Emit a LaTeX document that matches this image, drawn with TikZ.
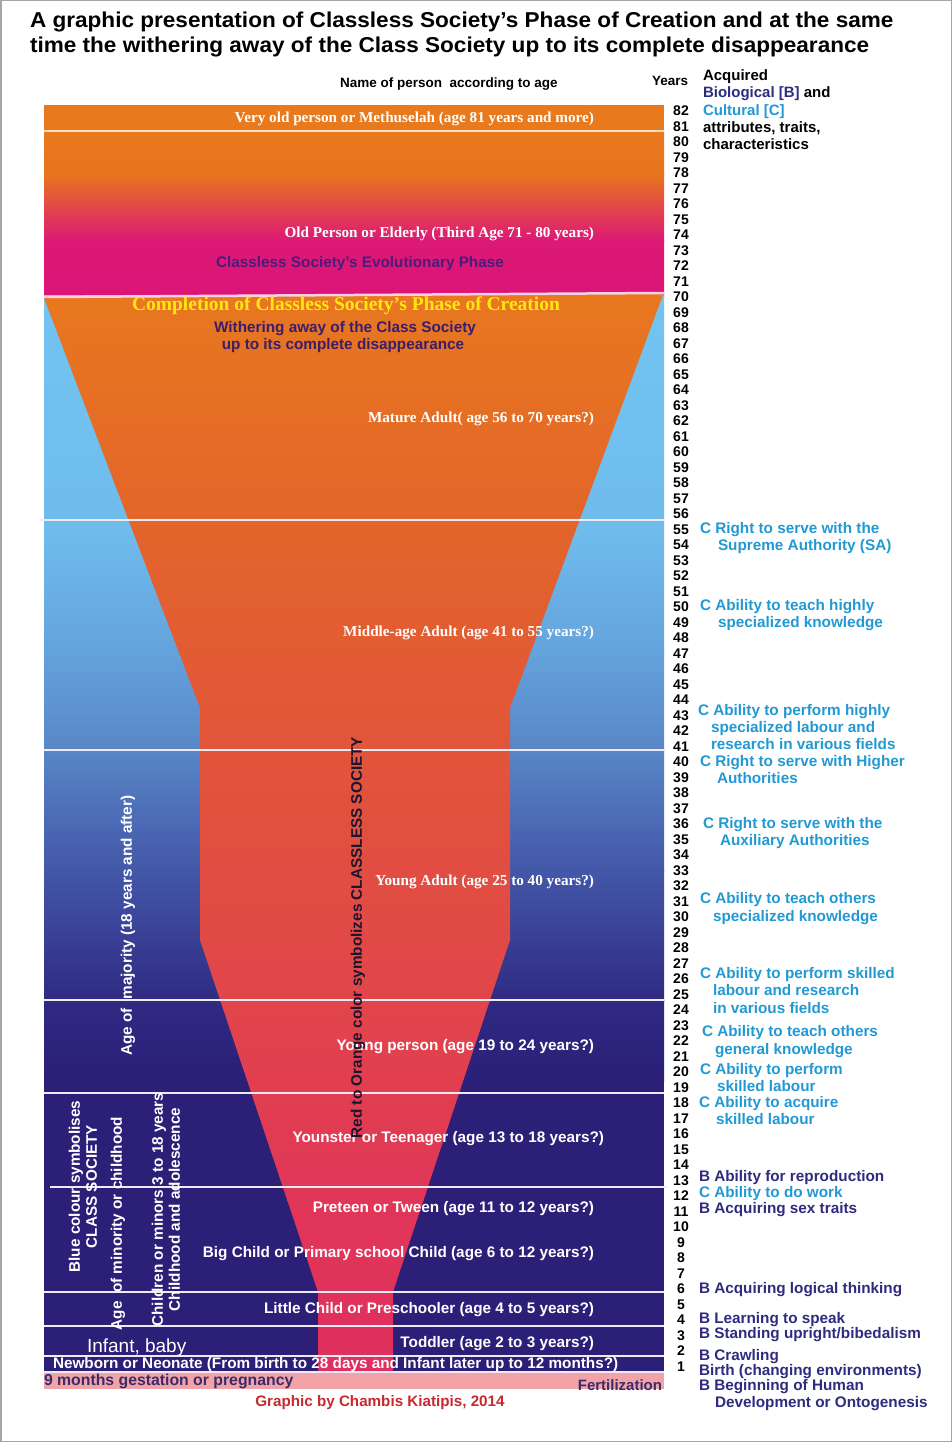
\documentclass[tikz,border=0pt]{standalone}
\usepackage{fontspec}
\setmainfont{Liberation Serif}
\setsansfont{Liberation Sans}
\newfontfamily\titlefont[FakeStretch=1.05]{Liberation Sans}
\definecolor{cult}{HTML}{2299D3}
\definecolor{biol}{HTML}{2F2B7F}
\definecolor{evol}{HTML}{4B1C7C}
\definecolor{withr}{HTML}{3C1D6A}
\definecolor{gest}{HTML}{3B2B6B}
\definecolor{credit}{HTML}{C8282E}
\definecolor{compl}{HTML}{FFE812}
\definecolor{meth}{HTML}{E8791C}
\definecolor{sepcol}{HTML}{EEEAF6}
\definecolor{strip}{HTML}{F2A3A8}
\definecolor{oldA}{HTML}{E7741F}
\definecolor{oldB}{HTML}{DC1975}
\definecolor{oldC}{HTML}{DC1478}
\definecolor{blA}{HTML}{73C4F0}
\definecolor{blB}{HTML}{6FBCEC}
\definecolor{blC}{HTML}{64A3DC}
\definecolor{blD}{HTML}{5886C7}
\definecolor{blE}{HTML}{4357A8}
\definecolor{blF}{HTML}{2F2A82}
\definecolor{blG}{HTML}{2B1F78}
\definecolor{fuA}{HTML}{E8781F}
\definecolor{fuB}{HTML}{E3652A}
\definecolor{fuC}{HTML}{E1553A}
\definecolor{fuD}{HTML}{E1454A}
\definecolor{fuE}{HTML}{E03658}
\definecolor{fuF}{HTML}{E02F5E}
\definecolor{sepPeach}{HTML}{F8E0C8}
\definecolor{sepPink}{HTML}{F6D0E6}
\definecolor{redtxt}{HTML}{1E142D}
\begin{document}
\begin{tikzpicture}[x=1pt,y=-1pt,
  every node/.style={inner sep=0pt,outer sep=0pt,yshift=-3.5pt},
  ttl/.style={font=\titlefont\bfseries\fontsize{21.5}{25}\selectfont,anchor=mid west},
  hdr/.style={font=\sffamily\bfseries\fontsize{13.5}{16}\selectfont,anchor=mid west},
  acq/.style={font=\sffamily\bfseries\fontsize{15}{17}\selectfont,anchor=mid west},
  bandlab/.style={font=\rmfamily\bfseries\fontsize{15.2}{18}\selectfont,text=white,anchor=mid east},
  wlab/.style={font=\sffamily\bfseries\fontsize{15.3}{18}\selectfont,text=white,anchor=mid east},
  yrnum/.style={font=\sffamily\bfseries\fontsize{14}{17}\selectfont,text=black,anchor=mid},
  clab/.style={font=\sffamily\bfseries\fontsize{15.3}{17}\selectfont,text=cult,anchor=mid west},
  blab/.style={font=\sffamily\bfseries\fontsize{15.3}{17}\selectfont,text=biol,anchor=mid west},
  vlab/.style={font=\sffamily\bfseries\fontsize{15.3}{17}\selectfont,text=white,rotate=90,align=center},
  sepline/.style={line width=2.5pt,draw=sepcol}]
\useasboundingbox (0,0) rectangle (952,1442);
\fill[white] (0,0) rectangle (952,1442);
\draw[line width=1.5pt,draw=gray!70] (0.75,0.75) rectangle (951.25,1441.25);

% title
\node[ttl] (t1) at (30,22) {A graphic presentation of Classless Society’s Phase of Creation and at the same};
\node[ttl] (t2) at (30,46.5) {time the withering away of the Class Society up to its complete disappearance};
\node[hdr] (hname) at (340,82) {Name of person\ \ according to age};
\node[hdr] (hyears) at (652,80) {Years};
\node[acq] (acq1) at (703,75) {Acquired};
\node[acq] (acq2) at (703,92) {\textcolor{biol}{Biological [B]} and};
\node[acq,text=cult] (acq3) at (703,110) {Cultural [C]};
\node[acq] (acq4) at (703,127) {attributes, traits,};
\node[acq] (acq5) at (703,144) {characteristics};

% top bands
\fill[meth] (44,105) rectangle (664,131);
\shade[top color=meth,bottom color=oldA] (44,131) rectangle (664,176);
\shade[top color=oldA,bottom color=oldB] (44,175) rectangle (664,241);
\shade[top color=oldB,bottom color=oldC] (44,240) rectangle (664,297);

% blue background
\shade[top color=blA,bottom color=blB] (44,295) rectangle (664,531);
\shade[top color=blB,bottom color=blC] (44,530) rectangle (664,651);
\shade[top color=blC,bottom color=blD] (44,650) rectangle (664,751);
\shade[top color=blD,bottom color=blE] (44,750) rectangle (664,871);
\shade[top color=blE,bottom color=blF] (44,870) rectangle (664,1001);
\shade[top color=blF,bottom color=blG] (44,1000) rectangle (664,1081);
\fill[blG] (44,1080) rectangle (664,1372);

% funnel (classless society)
\begin{scope}
\clip (44,298) -- (664,292) -- (510,708) -- (510,940) -- (393,1292) -- (393,1372)
      -- (318,1372) -- (318,1292) -- (200,940) -- (200,708) -- cycle;
\shade[top color=fuA,bottom color=fuB] (44,290) rectangle (664,521);
\shade[top color=fuB,bottom color=fuC] (44,520) rectangle (664,751);
\shade[top color=fuC,bottom color=fuD] (44,750) rectangle (664,1001);
\shade[top color=fuD,bottom color=fuE] (44,1000) rectangle (664,1201);
\shade[top color=fuE,bottom color=fuF] (44,1200) rectangle (664,1373);
\end{scope}

% gestation strip
\fill[strip] (44,1373) rectangle (664,1389);
\node[font=\sffamily\bfseries\fontsize{15.8}{18}\selectfont,text=gest,anchor=mid west] (gest) at (44,1380) {9 months gestation or pregnancy};

% separator lines
\draw[sepline,draw=sepPeach] (44,131) -- (664,131);
\draw[sepline,draw=sepPink] (44,297) -- (664,293);
\draw[sepline] (40,520) -- (664,520);
\draw[sepline] (44,750) -- (664,750);
\draw[sepline] (44,1000) -- (664,1000);
\draw[sepline] (44,1093) -- (664,1093);
\draw[sepline] (50,1187) -- (667,1187);
\draw[sepline] (44,1292) -- (664,1292);
\draw[sepline] (44,1326) -- (664,1326);
\draw[sepline] (44,1356) -- (664,1356);
\draw[sepline] (44,1372) -- (664,1372);

% band labels
\node[bandlab] (lmeth) at (594,117) {Very old person or Methuselah (age 81 years and more)};
\node[bandlab] (lold) at (594,232) {Old Person or Elderly (Third Age 71 - 80 years)};
\node[font=\sffamily\bfseries\fontsize{15.3}{18}\selectfont,text=evol,anchor=mid] (levol) at (360,262) {Classless Society’s Evolutionary Phase};
\node[font=\rmfamily\bfseries\fontsize{19.5}{22}\selectfont,text=compl,anchor=mid] (lcompl) at (346,305) {Completion of Classless Society’s Phase of Creation};
\node[font=\sffamily\bfseries\fontsize{15.3}{18}\selectfont,text=withr,anchor=mid] (lwith1) at (345,327) {Withering away of the Class Society};
\node[font=\sffamily\bfseries\fontsize{15.3}{18}\selectfont,text=withr,anchor=mid] (lwith2) at (343,344) {up to its complete disappearance};
\node[bandlab] (lmature) at (594,417) {Mature Adult( age 56 to 70 years?)};
\node[bandlab] (lmiddle) at (594,631) {Middle-age Adult (age 41 to 55 years?)};
\node[bandlab] (lyadult) at (594,880) {Young Adult (age 25 to 40 years?)};
\node[wlab] (lyperson) at (594,1045) {Young person (age 19 to 24 years?)};
\node[wlab] (lteen) at (604,1137) {Younster or Teenager (age 13 to 18 years?)};
\node[wlab] (ltween) at (594,1207) {Preteen or Tween (age 11 to 12 years?)};
\node[wlab] (lbig) at (594,1252) {Big Child or Primary school Child (age 6 to 12 years?)};
\node[wlab] (llittle) at (594,1308) {Little Child or Preschooler (age 4 to 5 years?)};
\node[wlab] (ltoddler) at (594,1342) {Toddler (age 2 to 3 years?)};
\node[font=\sffamily\fontsize{19}{21}\selectfont,text=white,anchor=mid west] (linfant) at (87,1347) {Infant, baby};
\node[font=\sffamily\bfseries\fontsize{15.3}{17}\selectfont,text=white,anchor=mid west] (lnewborn) at (53,1363) {Newborn or Neonate (From birth to 28 days and Infant later up to 12 months?)};
\node[font=\sffamily\bfseries\fontsize{15}{17}\selectfont,text=gest,anchor=mid east] (lfert) at (662,1385) {Fertilization};
\node[font=\sffamily\bfseries\fontsize{15.2}{17}\selectfont,text=credit,anchor=mid] (lcredit) at (380,1401) {Graphic by Chambis Kiatipis, 2014};

% vertical labels
\node[vlab] (vmaj) at (128,922) {Age of\ \ majority (18 years and after)};
\node[vlab,text=redtxt] (vred) at (358,934) {Red to Orange color symbolizes CLASSLESS SOCIETY};
\node[vlab] (vblue) at (83,1183) {Blue colour symbolises\\CLASS SOCIETY};
\node[vlab] (vmin) at (118,1220) {Age\ \ of minority or childhood};
\node[vlab] (vchild) at (166,1206) {Children or minors 3 to 18 years\\Childhood and adolescence};

% years
\foreach \n in {1,...,82} {
  \node[yrnum] (yr\n) at (681,{110+(82-\n)*15.5}) {\n};
}

% acquired attributes
\node[clab] (c55a) at (700,528) {C Right to serve with the};
\node[clab] (c55b) at (718,545) {Supreme Authority (SA)};
\node[clab] (c50a) at (700,605) {C Ability to teach highly};
\node[clab] (c50b) at (718,622) {specialized knowledge};
\node[clab] (c43a) at (698,710) {C Ability to perform highly};
\node[clab] (c43b) at (711,727) {specialized labour and};
\node[clab] (c43c) at (711,744) {research in various fields};
\node[clab] (c40a) at (700,761) {C Right to serve with Higher};
\node[clab] (c40b) at (717,778) {Authorities};
\node[clab] (c36a) at (703,823) {C Right to serve with the};
\node[clab] (c36b) at (720,840) {Auxiliary Authorities};
\node[clab] (c31a) at (700,898) {C Ability to teach others};
\node[clab] (c31b) at (713,916) {specialized knowledge};
\node[clab] (c26a) at (700,973) {C Ability to perform skilled};
\node[clab] (c26b) at (713,990) {labour and research};
\node[clab] (c26c) at (713,1008) {in various fields};
\node[clab] (c22a) at (702,1031) {C Ability to teach others};
\node[clab] (c22b) at (715,1049) {general knowledge};
\node[clab] (c20a) at (700,1069) {C Ability to perform};
\node[clab] (c20b) at (717,1086) {skilled labour};
\node[clab] (c18a) at (699,1102) {C Ability to acquire};
\node[clab] (c18b) at (716,1119) {skilled labour};
\node[blab] (b13) at (699,1176) {B Ability for reproduction};
\node[clab] (c12) at (699,1192) {C Ability to do work};
\node[blab] (b11) at (699,1208) {B Acquiring sex traits};
\node[blab] (b6) at (699,1288) {B Acquiring logical thinking};
\node[blab] (b4) at (699,1318) {B Learning to speak};
\node[blab] (b3) at (699,1333) {B Standing upright/bibedalism};
\node[blab] (b2) at (699,1355) {B Crawling};
\node[blab] (b1) at (699,1370) {Birth (changing environments)};
\node[blab] (b0a) at (699,1385) {B Beginning of Human};
\node[blab] (b0b) at (715,1402) {Development or Ontogenesis};
\end{tikzpicture}
\end{document}
